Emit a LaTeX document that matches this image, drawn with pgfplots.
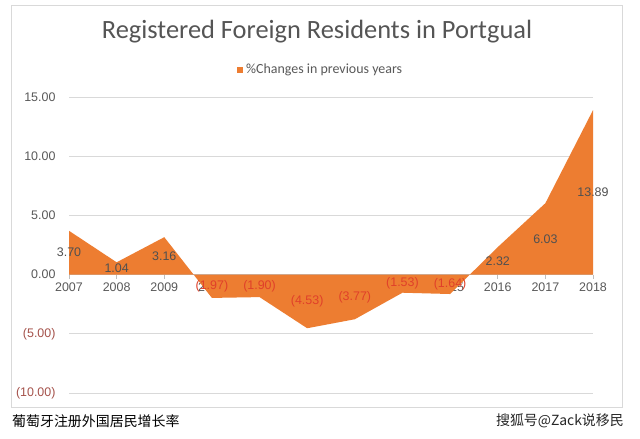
\documentclass[border=0pt]{standalone}
\usepackage{pgfplots}
\pgfplotsset{compat=1.18}
\usepackage{fontspec}
\setmainfont{Liberation Sans}
\newfontfamily\titlefont{Carlito}
\newfontfamily\cjk{Noto Sans CJK SC}
\definecolor{orng}{HTML}{ED7D31}
\definecolor{gridc}{HTML}{D9D9D9}
\definecolor{zeroc}{HTML}{BFBFBF}
\definecolor{tickc}{HTML}{595959}
\definecolor{negc}{HTML}{A5524B}
\definecolor{negd}{HTML}{E0402A}
\definecolor{posd}{HTML}{505050}
\definecolor{bordc}{HTML}{D9D9D9}
\definecolor{titlec}{HTML}{555555}
\begin{document}
\begin{tikzpicture}
\fill[white] (0,0) rectangle (640bp,-439bp);
\draw[bordc, line width=1bp] (11bp,-5bp) rectangle (622bp,-407bp);
\node[font=\titlefont\fontsize{26.5}{30}\selectfont, text=titlec] at (317bp,-32bp) {Registered Foreign Residents in Portgual};
\fill[orng] (237bp,-73bp) rectangle (243bp,-67bp);
\node[anchor=west, inner sep=0pt, font=\titlefont\fontsize{14}{16}\selectfont, text=tickc] at (246bp,-70bp) {\%Changes in previous years};
\node[anchor=west, inner sep=0pt, font=\cjk\fontsize{14}{16}\selectfont, text=black] at (12bp,-421bp) {葡萄牙注册外国居民增长率};
\node[anchor=east, inner sep=0pt, font=\cjk\fontsize{14}{16}\selectfont, text=black!85] at (624bp,-421bp) {搜狐号@Zack说移民};
\begin{axis}[
  at={(69bp,-393bp)}, anchor=south west,
  scale only axis, width=524bp, height=296bp,
  xmin=2007, xmax=2018, ymin=-10, ymax=15,
  axis x line=middle, axis y line=left,
  x axis line style={-, draw=zeroc, line width=1.5bp},
  y axis line style={draw=none},
  hide obscured x ticks=false, hide obscured y ticks=false,
  xtick={2007,2008,2009,2010,2011,2012,2013,2014,2015,2016,2017,2018},
  xticklabels={2007,2008,2009,2010,2011,2012,2013,2014,2015,2016,2017,2018},
  ytick={-10,-5,0,5,10,15},
  yticklabels={{\color{negc}(10.00)},{\color{negc}(5.00)},0.00,5.00,10.00,15.00},
  ymajorgrids, grid style={gridc, line width=0.8bp},
  tick align=outside, major tick length=4bp,
  xtick style={zeroc, line width=0.8bp},
  ytick style={draw=none},
  x tick label style={font=\fontsize{12.5}{14}\selectfont, text=tickc, yshift=-1bp},
  y tick label style={font=\fontsize{12.5}{14}\selectfont, text=tickc, anchor=east, xshift=-6bp},
  clip=false,
]
\addplot[fill=orng, draw=none] coordinates {
(2007,3.70) (2008,1.04) (2009,3.16) (2010,-1.97) (2011,-1.90) (2012,-4.53)
(2013,-3.77) (2014,-1.53) (2015,-1.64) (2016,2.32) (2017,6.03) (2018,13.89)
} \closedcycle;
\begin{scope}[every node/.style={font=\fontsize{12.5}{14}\selectfont}]
\node[text=posd] at (axis cs:2007,1.85) {3.70};
\node[text=posd] at (axis cs:2008,0.52) {1.04};
\node[text=posd] at (axis cs:2009,1.58) {3.16};
\node[text=negd] at (axis cs:2010,-0.985) {(1.97)};
\node[text=negd] at (axis cs:2011,-0.95) {(1.90)};
\node[text=negd] at (axis cs:2012,-2.265) {(4.53)};
\node[text=negd] at (axis cs:2013,-1.885) {(3.77)};
\node[text=negd] at (axis cs:2014,-0.765) {(1.53)};
\node[text=negd] at (axis cs:2015,-0.82) {(1.64)};
\node[text=posd] at (axis cs:2016,1.16) {2.32};
\node[text=posd] at (axis cs:2017,3.015) {6.03};
\node[text=posd] at (axis cs:2018,6.945) {13.89};
\end{scope}
\end{axis}
\end{tikzpicture}
\end{document}
